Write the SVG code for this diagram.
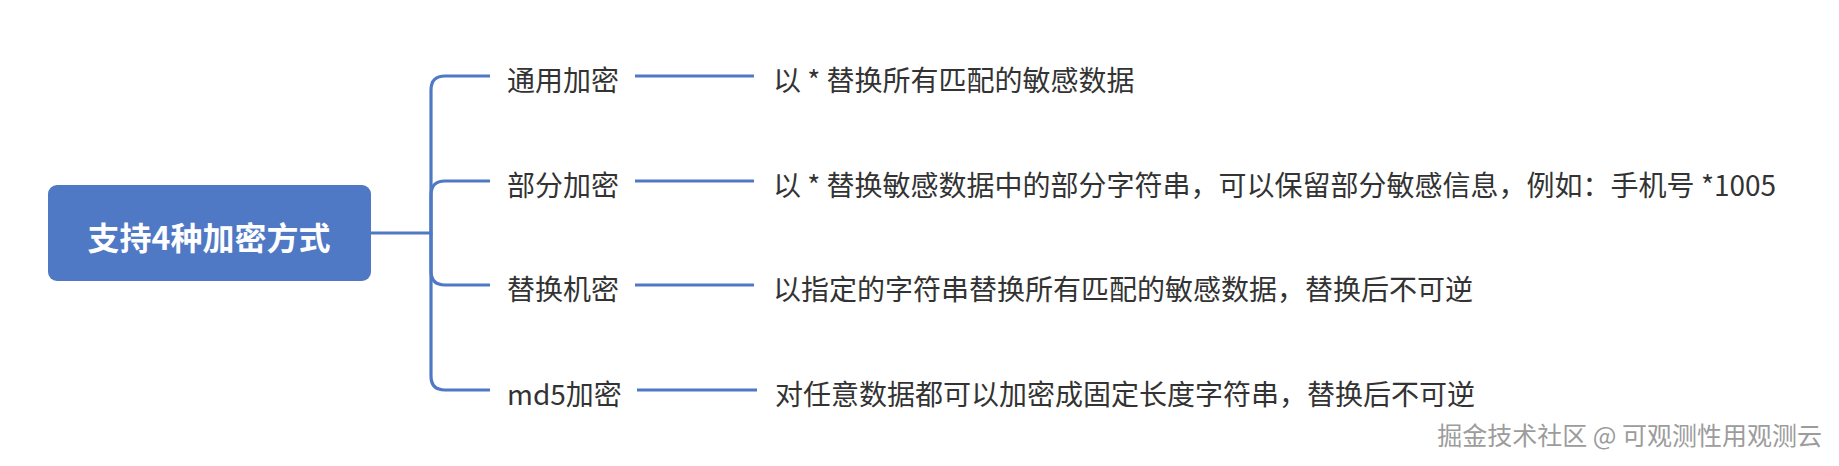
<svg xmlns="http://www.w3.org/2000/svg" width="1839" height="466" viewBox="0 0 1839 466">
<style>
.conn{fill:none;stroke:#5079C5;stroke-width:3.2;stroke-linecap:butt}
.lbl{font-family:"Noto Sans CJK SC","Noto Sans",sans-serif;font-size:28px;fill:#333333;dominant-baseline:central}
.root{font-family:"Noto Sans CJK SC","Noto Sans",sans-serif;font-size:32px;font-weight:700;fill:#ffffff;dominant-baseline:central;text-anchor:middle}
.wm{font-family:"Noto Sans CJK SC","Noto Sans",sans-serif;font-size:25px;fill:#9c9c9c;dominant-baseline:central;text-anchor:end}
</style>
<rect width="1839" height="466" fill="#ffffff"/>
<g id="connectors">
<path class="conn" d="M371 233 H431 V90 Q431 76 445 76 H490"/>
<path class="conn" d="M431 233 V195 Q431 181 445 181 H490"/>
<path class="conn" d="M431 233 V271 Q431 285 445 285 H490"/>
<path class="conn" d="M431 233 V376 Q431 390 445 390 H490"/>
<path class="conn" d="M635 76 H754"/>
<path class="conn" d="M635 181 H754"/>
<path class="conn" d="M635 285 H754"/>
<path class="conn" d="M637 390 H757"/>
</g>
<g id="root">
<rect x="48" y="185" width="323" height="96" rx="9" fill="#5079C5"/>
<text class="root" x="209" y="236">支持4种加密方式</text>
</g>
<g id="n1"><text class="lbl" x="507" y="78.5">通用加密</text></g>
<g id="n2"><text class="lbl" x="507" y="183.5">部分加密</text></g>
<g id="n3"><text class="lbl" x="507" y="287.5">替换机密</text></g>
<g id="n4"><text class="lbl" x="507" y="392.5">md5加密</text></g>
<g id="d1"><text class="lbl" x="773" y="78.5">以 * 替换所有匹配的敏感数据</text></g>
<g id="d2"><text class="lbl" x="773" y="183.5">以 * 替换敏感数据中的部分字符串，可以保留部分敏感信息，例如：手机号 *1005</text></g>
<g id="d3"><text class="lbl" x="773" y="287.5">以指定的字符串替换所有匹配的敏感数据，替换后不可逆</text></g>
<g id="d4"><text class="lbl" x="775" y="392.5">对任意数据都可以加密成固定长度字符串，替换后不可逆</text></g>
<text class="wm" x="1822" y="434">掘金技术社区 @ 可观测性用观测云</text>
</svg>
